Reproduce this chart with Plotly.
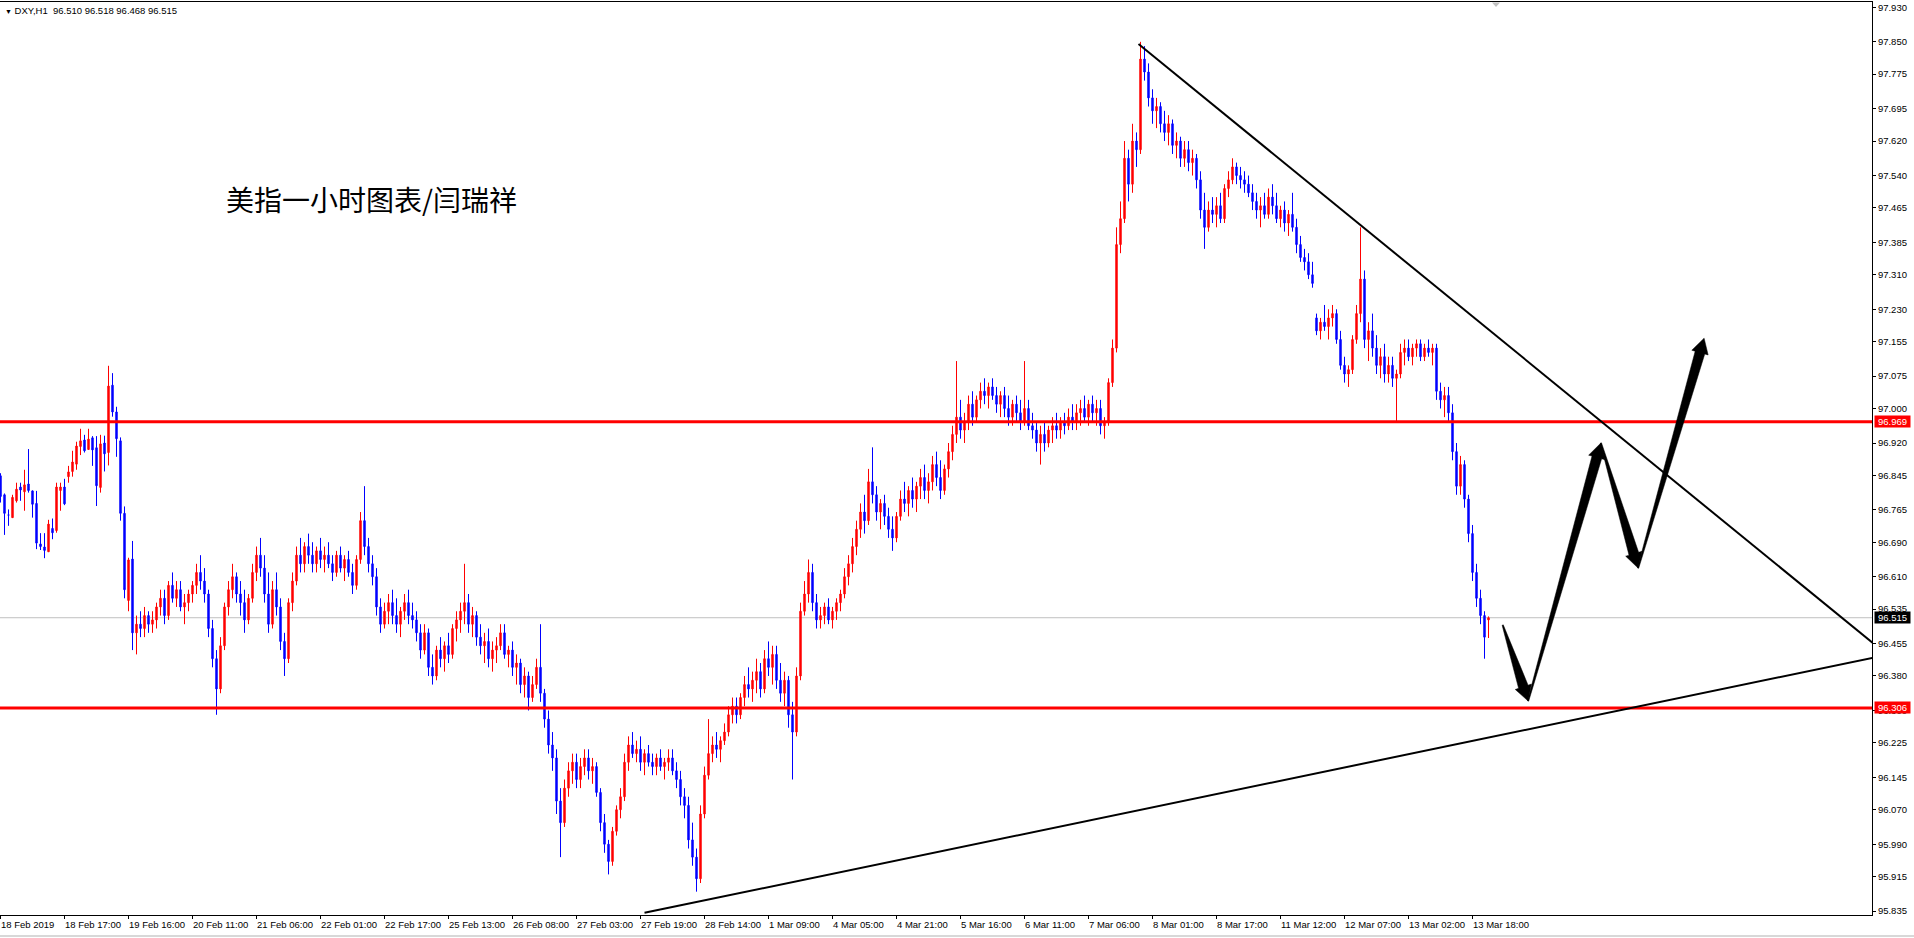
import plotly.graph_objects as go

# ---------------- data (DXY H1) ----------------
opens = [
    96.844, 96.800, 96.753, 96.747, 96.786, 96.818, 96.807, 96.825, 96.809, 96.780,
    96.686, 96.679, 96.668, 96.722, 96.717, 96.810, 96.818, 96.842, 96.854, 96.871,
    96.912, 96.927, 96.905, 96.932, 96.909, 96.817, 96.920, 96.898, 97.054, 96.992,
    96.925, 96.757, 96.555, 96.651, 96.48, 96.50, 96.49, 96.52, 96.50, 96.51,
    96.54, 96.56, 96.52, 96.59, 96.56, 96.58, 96.54, 96.55, 96.57, 96.59,
    96.62, 96.60, 96.57, 96.49, 96.42, 96.35, 96.45, 96.54, 96.58, 96.61,
    96.57, 96.55, 96.51, 96.56, 96.62, 96.66, 96.63, 96.57, 96.50, 96.58,
    96.54, 96.46, 96.42, 96.55, 96.60, 96.66, 96.64, 96.68, 96.66, 96.64,
    96.67, 96.65, 96.66, 96.64, 96.62, 96.66, 96.63, 96.65, 96.62, 96.59,
    96.65, 96.74, 96.68, 96.64, 96.61, 96.54, 96.50, 96.53, 96.55, 96.52,
    96.50, 96.53, 96.55, 96.52, 96.51, 96.48, 96.44, 96.48, 96.40, 96.38,
    96.44, 96.42, 96.45, 96.43, 96.49, 96.51, 96.53, 96.55, 96.50, 96.52,
    96.47, 96.45, 96.46, 96.42, 96.44, 96.45, 96.48, 96.43, 96.44, 96.40,
    96.41, 96.36, 96.38, 96.33, 96.36, 96.40, 96.34, 96.28, 96.22, 96.19,
    96.09, 96.04, 96.12, 96.16, 96.18, 96.14, 96.17, 96.19, 96.16, 96.17,
    96.11, 96.04, 95.99, 95.95, 96.02, 96.07, 96.10, 96.18, 96.22, 96.20,
    96.21, 96.18, 96.20, 96.18, 96.17, 96.19, 96.17, 96.18, 96.19, 96.16,
    96.14, 96.10, 96.08, 96.00, 95.96, 95.91, 96.06, 96.15, 96.20, 96.22,
    96.21, 96.23, 96.25, 96.29, 96.31, 96.29, 96.33, 96.36, 96.35, 96.37,
    96.39, 96.35, 96.42, 96.40, 96.43, 96.37, 96.34, 96.37, 96.29, 96.25,
    96.38, 96.53, 96.57, 96.62, 96.55, 96.51, 96.52, 96.54, 96.51, 96.53,
    96.55, 96.57, 96.61, 96.64, 96.68, 96.72, 96.76, 96.74, 96.83, 96.80,
    96.76, 96.78, 96.75, 96.72, 96.70, 96.75, 96.79, 96.78, 96.81, 96.79,
    96.82, 96.84, 96.81, 96.83, 96.87, 96.84, 96.81, 96.86, 96.90, 96.94,
    96.98, 96.95, 96.97, 97.01, 96.98, 97.02, 97.04, 97.03, 97.05, 97.03,
    97.01, 97.03, 97.00, 96.98, 97.01, 96.99, 96.97, 97.00, 96.96, 96.95,
    96.92, 96.94, 96.92, 96.95, 96.96, 96.95, 96.97, 96.96, 96.98, 96.97,
    96.99, 97.00, 96.98, 97.01, 96.99, 97.00, 96.96, 96.97, 97.06, 97.14,
    97.38, 97.44, 97.58, 97.52, 97.62, 97.60, 97.81, 97.78, 97.72, 97.69,
    97.70, 97.66, 97.64, 97.66, 97.61, 97.62, 97.58, 97.60, 97.57, 97.58,
    97.53, 97.46, 97.42, 97.46, 97.45, 97.47, 97.44, 97.51, 97.53, 97.56,
    97.54, 97.53, 97.52, 97.50, 97.48, 97.46, 97.47, 97.45, 97.49, 97.47,
    97.44, 97.46, 97.43, 97.45, 97.42, 97.38, 97.35, 97.34, 97.31, 97.21,
    97.18, 97.20, 97.19, 97.21, 97.22, 97.16, 97.10, 97.08, 97.09, 97.16,
    97.22, 97.30, 97.16, 97.18, 97.14, 97.10, 97.12, 97.08, 97.10, 97.07,
    97.08, 97.13, 97.14, 97.12, 97.14, 97.15, 97.12, 97.14, 97.13, 97.14,
    97.04, 97.02, 97.03, 96.99, 96.90, 96.82, 96.87, 96.79, 96.71, 96.62,
    96.56, 96.52, 96.510,
]
highs = [
    96.850, 96.803, 96.766, 96.800, 96.828, 96.828, 96.858, 96.906, 96.810, 96.809,
    96.711, 96.711, 96.742, 96.745, 96.828, 96.828, 96.837, 96.867, 96.902, 96.923,
    96.953, 96.939, 96.953, 96.936, 96.936, 96.939, 96.937, 97.099, 97.082, 97.004,
    96.933, 96.773, 96.654, 96.693, 96.52, 96.53, 96.54, 96.53, 96.53, 96.55,
    96.58, 96.58, 96.60, 96.62, 96.60, 96.60, 96.57, 96.58, 96.60, 96.64,
    96.66, 96.63, 96.58, 96.51, 96.44, 96.47, 96.55, 96.60, 96.64, 96.62,
    96.60, 96.58, 96.57, 96.64, 96.68, 96.70, 96.66, 96.62, 96.60, 96.62,
    96.56, 96.48, 96.56, 96.62, 96.68, 96.70, 96.69, 96.71, 96.69, 96.68,
    96.70, 96.68, 96.69, 96.66, 96.67, 96.68, 96.66, 96.67, 96.64, 96.66,
    96.76, 96.82, 96.70, 96.66, 96.63, 96.56, 96.55, 96.57, 96.58, 96.56,
    96.54, 96.57, 96.58, 96.55, 96.53, 96.50, 96.50, 96.49, 96.43, 96.45,
    96.47, 96.46, 96.48, 96.50, 96.53, 96.55, 96.64, 96.57, 96.54, 96.53,
    96.50, 96.48, 96.49, 96.46, 96.47, 96.50, 96.50, 96.45, 96.46, 96.43,
    96.42, 96.40, 96.39, 96.38, 96.42, 96.50, 96.35, 96.30, 96.25, 96.21,
    96.12, 96.14, 96.18, 96.20, 96.20, 96.19, 96.21, 96.21, 96.19, 96.18,
    96.12, 96.06, 96.00, 96.03, 96.08, 96.12, 96.20, 96.24, 96.25, 96.23,
    96.24, 96.21, 96.22, 96.20, 96.20, 96.21, 96.19, 96.21, 96.21, 96.18,
    96.16, 96.12, 96.10, 96.04, 95.98, 96.08, 96.17, 96.28, 96.24, 96.25,
    96.24, 96.27, 96.31, 96.33, 96.33, 96.34, 96.38, 96.40, 96.39, 96.42,
    96.41, 96.44, 96.46, 96.45, 96.45, 96.41, 96.39, 96.38, 96.32, 96.40,
    96.55, 96.60, 96.65, 96.64, 96.57, 96.54, 96.55, 96.56, 96.54, 96.56,
    96.58, 96.63, 96.66, 96.70, 96.74, 96.78, 96.80, 96.86, 96.91, 96.82,
    96.79, 96.80, 96.77, 96.75, 96.76, 96.81, 96.83, 96.82, 96.84, 96.83,
    96.86, 96.87, 96.85, 96.89, 96.90, 96.88, 96.87, 96.92, 96.96, 97.11,
    97.02, 96.99, 97.03, 97.04, 97.03, 97.06, 97.07, 97.06, 97.07, 97.05,
    97.04, 97.05, 97.03, 97.02, 97.03, 97.02, 97.11, 97.02, 96.99, 96.97,
    96.96, 96.97, 96.96, 96.98, 96.99, 96.98, 96.99, 97.00, 97.01, 97.01,
    97.02, 97.03, 97.02, 97.03, 97.02, 97.02, 96.98, 97.07, 97.16, 97.42,
    97.48, 97.62, 97.60, 97.66, 97.64, 97.85, 97.84, 97.80, 97.74, 97.72,
    97.71, 97.69, 97.68, 97.67, 97.64, 97.63, 97.62, 97.62, 97.60, 97.59,
    97.55, 97.50, 97.48, 97.49, 97.49, 97.50, 97.52, 97.55, 97.58, 97.57,
    97.56, 97.55, 97.54, 97.52, 97.50, 97.49, 97.50, 97.51, 97.52, 97.50,
    97.47, 97.48, 97.46, 97.50, 97.44, 97.40, 97.37, 97.36, 97.34, 97.22,
    97.21, 97.24, 97.23, 97.24, 97.23, 97.18, 97.12, 97.10, 97.17, 97.24,
    97.42, 97.32, 97.20, 97.22, 97.17, 97.14, 97.15, 97.12, 97.12, 97.09,
    97.15, 97.16, 97.16, 97.15, 97.16, 97.16, 97.15, 97.16, 97.15, 97.15,
    97.06, 97.05, 97.05, 97.01, 96.92, 96.89, 96.88, 96.80, 96.73, 96.64,
    96.58, 96.53, 96.518,
]
lows = [
    96.782, 96.707, 96.728, 96.747, 96.782, 96.786, 96.763, 96.805, 96.747, 96.674,
    96.672, 96.653, 96.668, 96.697, 96.712, 96.763, 96.776, 96.828, 96.842, 96.858,
    96.892, 96.898, 96.904, 96.867, 96.774, 96.805, 96.854, 96.868, 96.981, 96.888,
    96.740, 96.560, 96.530, 96.440, 96.43, 96.47, 96.47, 96.48, 96.48, 96.49,
    96.52, 96.50, 96.51, 96.55, 96.54, 96.53, 96.50, 96.53, 96.55, 96.57,
    96.58, 96.55, 96.47, 96.40, 96.29, 96.34, 96.44, 96.52, 96.56, 96.55,
    96.52, 96.48, 96.50, 96.55, 96.60, 96.61, 96.55, 96.48, 96.49, 96.52,
    96.44, 96.38, 96.41, 96.53, 96.59, 96.62, 96.62, 96.64, 96.62, 96.62,
    96.63, 96.62, 96.63, 96.60, 96.61, 96.62, 96.60, 96.61, 96.57, 96.58,
    96.64, 96.66, 96.62, 96.59, 96.52, 96.48, 96.49, 96.50, 96.50, 96.48,
    96.47, 96.51, 96.50, 96.49, 96.46, 96.42, 96.43, 96.38, 96.36, 96.37,
    96.40, 96.39, 96.41, 96.42, 96.46, 96.48, 96.50, 96.48, 96.47, 96.45,
    96.43, 96.41, 96.40, 96.39, 96.41, 96.44, 96.42, 96.40, 96.38, 96.36,
    96.34, 96.33, 96.30, 96.32, 96.35, 96.32, 96.26, 96.20, 96.16, 96.06,
    95.96, 96.03, 96.10, 96.13, 96.12, 96.12, 96.15, 96.14, 96.13, 96.10,
    96.02, 95.97, 95.92, 95.94, 96.01, 96.05, 96.09, 96.16, 96.19, 96.18,
    96.16, 96.15, 96.17, 96.15, 96.15, 96.16, 96.14, 96.16, 96.15, 96.12,
    96.08, 96.05, 95.98, 95.94, 95.88, 95.90, 96.05, 96.14, 96.18, 96.19,
    96.18, 96.22, 96.24, 96.27, 96.27, 96.28, 96.31, 96.33, 96.32, 96.34,
    96.33, 96.34, 96.38, 96.36, 96.35, 96.32, 96.31, 96.26, 96.14, 96.24,
    96.37, 96.52, 96.55, 96.53, 96.49, 96.49, 96.50, 96.50, 96.49, 96.51,
    96.53, 96.56, 96.59, 96.62, 96.66, 96.70, 96.71, 96.73, 96.78, 96.74,
    96.72, 96.73, 96.70, 96.67, 96.69, 96.74, 96.76, 96.75, 96.77, 96.76,
    96.79, 96.79, 96.78, 96.81, 96.82, 96.79, 96.80, 96.84, 96.88, 96.92,
    96.93, 96.92, 96.95, 96.96, 96.97, 97.00, 97.01, 97.00, 97.02, 96.99,
    96.98, 96.98, 96.96, 96.96, 96.97, 96.95, 96.96, 96.95, 96.93, 96.90,
    96.87, 96.90, 96.91, 96.92, 96.93, 96.93, 96.94, 96.95, 96.95, 96.95,
    96.96, 96.97, 96.96, 96.97, 96.96, 96.94, 96.93, 96.96, 97.05, 97.13,
    97.36, 97.43, 97.48, 97.50, 97.56, 97.59, 97.76, 97.70, 97.66, 97.65,
    97.64, 97.62, 97.61, 97.59, 97.58, 97.56, 97.56, 97.55, 97.54, 97.51,
    97.44, 97.37, 97.41, 97.43, 97.42, 97.43, 97.43, 97.49, 97.52, 97.52,
    97.51, 97.50, 97.49, 97.46, 97.44, 97.42, 97.44, 97.44, 97.45, 97.43,
    97.42, 97.41, 97.40, 97.41, 97.36, 97.34, 97.32, 97.30, 97.28, 97.17,
    97.16, 97.18, 97.16, 97.19, 97.15, 97.09, 97.06, 97.05, 97.08, 97.15,
    97.20, 97.14, 97.11, 97.12, 97.08, 97.07, 97.06, 97.06, 97.05, 96.97,
    97.07, 97.10, 97.11, 97.10, 97.12, 97.11, 97.11, 97.12, 97.10, 97.02,
    97.00, 96.98, 96.97, 96.88, 96.80, 96.80, 96.77, 96.69, 96.60, 96.54,
    96.50, 96.42, 96.468,
]
closes = [
    96.796, 96.757, 96.753, 96.794, 96.813, 96.811, 96.823, 96.810, 96.778, 96.688,
    96.680, 96.671, 96.732, 96.712, 96.818, 96.818, 96.779, 96.853, 96.876, 96.913,
    96.925, 96.902, 96.929, 96.904, 96.821, 96.918, 96.895, 97.052, 96.992, 96.930,
    96.757, 96.580, 96.649, 96.480, 96.50, 96.49, 96.52, 96.50, 96.51, 96.54,
    96.56, 96.52, 96.59, 96.56, 96.58, 96.54, 96.55, 96.57, 96.59, 96.62,
    96.60, 96.57, 96.49, 96.42, 96.35, 96.45, 96.54, 96.58, 96.61, 96.57,
    96.55, 96.51, 96.56, 96.62, 96.66, 96.63, 96.57, 96.50, 96.58, 96.54,
    96.46, 96.42, 96.55, 96.60, 96.66, 96.64, 96.68, 96.66, 96.64, 96.67,
    96.65, 96.66, 96.64, 96.62, 96.66, 96.63, 96.65, 96.62, 96.59, 96.65,
    96.74, 96.68, 96.64, 96.61, 96.54, 96.50, 96.53, 96.55, 96.52, 96.50,
    96.53, 96.55, 96.52, 96.51, 96.48, 96.44, 96.48, 96.40, 96.38, 96.44,
    96.42, 96.45, 96.43, 96.49, 96.51, 96.53, 96.55, 96.50, 96.52, 96.47,
    96.45, 96.46, 96.42, 96.44, 96.45, 96.48, 96.43, 96.44, 96.40, 96.41,
    96.36, 96.38, 96.33, 96.36, 96.40, 96.34, 96.28, 96.22, 96.19, 96.09,
    96.04, 96.12, 96.16, 96.18, 96.14, 96.17, 96.19, 96.16, 96.17, 96.11,
    96.04, 95.99, 95.95, 96.02, 96.07, 96.10, 96.18, 96.22, 96.20, 96.21,
    96.18, 96.20, 96.18, 96.17, 96.19, 96.17, 96.18, 96.19, 96.16, 96.14,
    96.10, 96.08, 96.00, 95.96, 95.91, 96.06, 96.15, 96.20, 96.22, 96.21,
    96.23, 96.25, 96.29, 96.31, 96.29, 96.33, 96.36, 96.35, 96.37, 96.39,
    96.35, 96.42, 96.40, 96.43, 96.37, 96.34, 96.37, 96.29, 96.25, 96.38,
    96.53, 96.57, 96.62, 96.55, 96.51, 96.52, 96.54, 96.51, 96.53, 96.55,
    96.57, 96.61, 96.64, 96.68, 96.72, 96.76, 96.74, 96.83, 96.80, 96.76,
    96.78, 96.75, 96.72, 96.70, 96.75, 96.79, 96.78, 96.81, 96.79, 96.82,
    96.84, 96.81, 96.83, 96.87, 96.84, 96.81, 96.86, 96.90, 96.94, 96.98,
    96.95, 96.97, 97.01, 96.98, 97.02, 97.04, 97.03, 97.05, 97.03, 97.01,
    97.03, 97.00, 96.98, 97.01, 96.99, 96.97, 97.00, 96.96, 96.95, 96.92,
    96.94, 96.92, 96.95, 96.96, 96.95, 96.97, 96.96, 96.98, 96.97, 96.99,
    97.00, 96.98, 97.01, 96.99, 97.00, 96.96, 96.97, 97.06, 97.14, 97.38,
    97.44, 97.58, 97.52, 97.62, 97.60, 97.81, 97.78, 97.72, 97.69, 97.70,
    97.66, 97.64, 97.66, 97.61, 97.62, 97.58, 97.60, 97.57, 97.58, 97.53,
    97.46, 97.42, 97.46, 97.45, 97.47, 97.44, 97.51, 97.53, 97.56, 97.54,
    97.53, 97.52, 97.50, 97.48, 97.46, 97.47, 97.45, 97.49, 97.47, 97.44,
    97.46, 97.43, 97.45, 97.42, 97.38, 97.35, 97.34, 97.31, 97.29, 97.18,
    97.20, 97.19, 97.21, 97.22, 97.16, 97.10, 97.08, 97.09, 97.16, 97.22,
    97.30, 97.16, 97.18, 97.14, 97.10, 97.12, 97.08, 97.10, 97.07, 97.08,
    97.13, 97.14, 97.12, 97.14, 97.15, 97.12, 97.14, 97.13, 97.14, 97.04,
    97.02, 97.03, 96.99, 96.90, 96.82, 96.87, 96.79, 96.71, 96.62, 96.56,
    96.52, 96.47, 96.515,
]

time_tick_bars = [0, 16, 32, 48, 64, 80, 96, 112, 128, 144, 160, 176,
                  192, 208, 224, 240, 256, 272, 288, 304, 320, 336, 352, 368]
time_tick_labels = ["18 Feb 2019", "18 Feb 17:00", "19 Feb 16:00", "20 Feb 11:00",
                    "21 Feb 06:00", "22 Feb 01:00", "22 Feb 17:00", "25 Feb 13:00",
                    "26 Feb 08:00", "27 Feb 03:00", "27 Feb 19:00", "28 Feb 14:00",
                    "1 Mar 09:00", "4 Mar 05:00", "4 Mar 21:00", "5 Mar 16:00",
                    "6 Mar 11:00", "7 Mar 06:00", "8 Mar 01:00", "8 Mar 17:00",
                    "11 Mar 12:00", "12 Mar 07:00", "13 Mar 02:00", "13 Mar 18:00"]
price_ticks = [97.930, 97.850, 97.775, 97.695, 97.620, 97.540, 97.465, 97.385,
               97.310, 97.230, 97.155, 97.075, 97.000, 96.920, 96.845, 96.765,
               96.690, 96.610, 96.535, 96.455, 96.380, 96.300, 96.225, 96.145,
               96.070, 95.990, 95.915, 95.835]

resistance = 96.969
support = 96.306
bid = 96.515
header = "DXY,H1  96.510 96.518 96.468 96.515"
title_cn = "美指一小时图表/闫瑞祥"

# trend lines (bar index, price)
down_line_x = [284.5, 468.0]
down_line_y = [97.845, 96.457]
up_line_x = [161.0, 468.0]
up_line_y = [95.831, 96.422]

# projected zig-zag arrows (bar index, price)
arrow_x = [375.55, 381.9, 400.1, 409.4, 425.9]
arrow_y = [96.498, 96.322, 96.920, 96.630, 97.163]

# ---------------- layout geometry ----------------
W, H = 1914, 938
ML, MR, MT, MB = 0, 42, 2, 23
PW, PH = W - ML - MR, H - MT - MB
BAR_PX = 4.0
X0 = -0.125
X1 = X0 + PW / BAR_PX
Y1 = 97.9423
Y0 = 95.8259
PX_PER_UNIT = PH / (Y1 - Y0)


def to_px(i, p):
    return (i - X0) * BAR_PX, (Y1 - p) * PX_PER_UNIT


def to_data(x, y):
    return x / BAR_PX + X0, Y1 - y / PX_PER_UNIT


def arrow_path(a, b, w_tail=0.6, w_shaft=5.0, w_head=8.5, head_len=15.0):
    ax, ay = to_px(*a)
    bx, by = to_px(*b)
    dx, dy = bx - ax, by - ay
    L = (dx * dx + dy * dy) ** 0.5
    ux, uy = dx / L, dy / L
    nx, ny = -uy, ux
    cx, cy = bx - ux * head_len, by - uy * head_len
    pts = [
        (ax + nx * w_tail, ay + ny * w_tail),
        (cx + nx * w_shaft, cy + ny * w_shaft),
        (cx + nx * w_head, cy + ny * w_head),
        (bx, by),
        (cx - nx * w_head, cy - ny * w_head),
        (cx - nx * w_shaft, cy - ny * w_shaft),
        (ax - nx * w_tail, ay - ny * w_tail),
    ]
    d = []
    for k, (x, y) in enumerate(pts):
        xi, yi = to_data(x, y)
        d.append(("M" if k == 0 else "L") + f"{xi:.4f},{yi:.5f}")
    return " ".join(d) + " Z"


bars = list(range(len(closes)))

fig = go.Figure()
fig.add_trace(go.Candlestick(
    x=bars, open=opens, high=highs, low=lows, close=closes,
    increasing=dict(line=dict(color="#FF0000", width=1), fillcolor="#FF0000"),
    decreasing=dict(line=dict(color="#0000FF", width=1), fillcolor="#0000FF"),
    whiskerwidth=0, hoverinfo="skip", showlegend=False,
))

shapes = []
shapes.append(dict(type="line", xref="paper", x0=0, x1=1, yref="y", y0=bid, y1=bid,
                   line=dict(color="#C0C0C0", width=1), layer="below"))
for lvl in (resistance, support):
    shapes.append(dict(type="line", xref="paper", x0=0, x1=1, yref="y", y0=lvl, y1=lvl,
                       line=dict(color="#FF0000", width=3), layer="above"))
shapes.append(dict(type="line", xref="x", yref="y", x0=down_line_x[0], y0=down_line_y[0],
                   x1=down_line_x[1], y1=down_line_y[1], line=dict(color="black", width=2)))
shapes.append(dict(type="line", xref="x", yref="y", x0=up_line_x[0], y0=up_line_y[0],
                   x1=up_line_x[1], y1=up_line_y[1], line=dict(color="black", width=2)))
for k in range(len(arrow_x) - 1):
    shapes.append(dict(type="path", xref="x", yref="y",
                       path=arrow_path((arrow_x[k], arrow_y[k]), (arrow_x[k + 1], arrow_y[k + 1])),
                       fillcolor="black", line=dict(color="black", width=0.5)))
sx = 1496 / PW
shapes.append(dict(type="path", xref="paper", yref="paper",
                   path=f"M{sx - 4 / PW},{1 - 0.5 / PH} L{sx + 4 / PW},{1 - 0.5 / PH} L{sx},{1 - 5 / PH} Z",
                   fillcolor="#C0C0C0", line=dict(width=0)))
shapes.append(dict(type="line", xref="paper", yref="paper", x0=0, x1=W / PW,
                   y0=-(936 - (H - MB)) / PH, y1=-(936 - (H - MB)) / PH,
                   line=dict(color="#D8D8D8", width=2)))

font_ui = "Liberation Sans, Arial, sans-serif"
annotations = []
for lvl, txt, bg in ((resistance, f"{resistance:.3f}", "#FF0000"),
                     (support, f"{support:.3f}", "#FF0000"),
                     (bid, f"{bid:.3f}", "#000000")):
    annotations.append(dict(xref="paper", yref="y", x=1 + 2 / PW, y=lvl, xanchor="left",
                            yanchor="middle", text=txt, showarrow=False, bgcolor=bg,
                            width=35, height=11, borderpad=0,
                            font=dict(family=font_ui, size=9.5, color="white")))
for b, lab in zip(time_tick_bars, time_tick_labels):
    annotations.append(dict(xref="x", yref="paper", x=b, y=-10 / PH, xanchor="left",
                            yanchor="middle", xshift=-2, text=lab, showarrow=False,
                            font=dict(family=font_ui, size=9.5, color="black")))
annotations.append(dict(xref="paper", yref="paper", x=3 / PW, y=1 - 8 / PH,
                        xanchor="left", yanchor="middle", showarrow=False,
                        text="<span style='font-size:7px'>▼</span> " + header,
                        font=dict(family=font_ui, size=9.5, color="black")))
annotations.append(dict(xref="paper", yref="paper", x=224 / PW, y=1 - 197 / PH,
                        xanchor="left", yanchor="middle", showarrow=False,
                        text=title_cn,
                        font=dict(family="Noto Sans CJK SC", size=28, color="black")))

fig.update_layout(
    width=W, height=H,
    margin=dict(l=ML, r=MR, t=MT, b=MB, pad=0),
    paper_bgcolor="white", plot_bgcolor="white",
    showlegend=False, boxgap=0.5,
    shapes=shapes, annotations=annotations,
    xaxis=dict(range=[X0, X1], rangeslider=dict(visible=False), showgrid=False,
               zeroline=False, showline=True, mirror=True, linecolor="black", linewidth=1,
               ticks="outside", ticklen=3, tickcolor="black",
               tickvals=time_tick_bars, showticklabels=False),
    yaxis=dict(range=[Y0, Y1], side="right", showgrid=False, zeroline=False,
               showline=True, linecolor="black", linewidth=1,
               ticks="outside", ticklen=3, tickcolor="black",
               tickvals=price_ticks, ticktext=[f"{v:.3f}" for v in price_ticks],
               tickfont=dict(family=font_ui, size=9.5, color="black")),
)

fig.write_html("out.html", config={"displayModeBar": False, "staticPlot": True},
               post_script="document.body.style.margin='0px';document.body.style.overflow='hidden';")
